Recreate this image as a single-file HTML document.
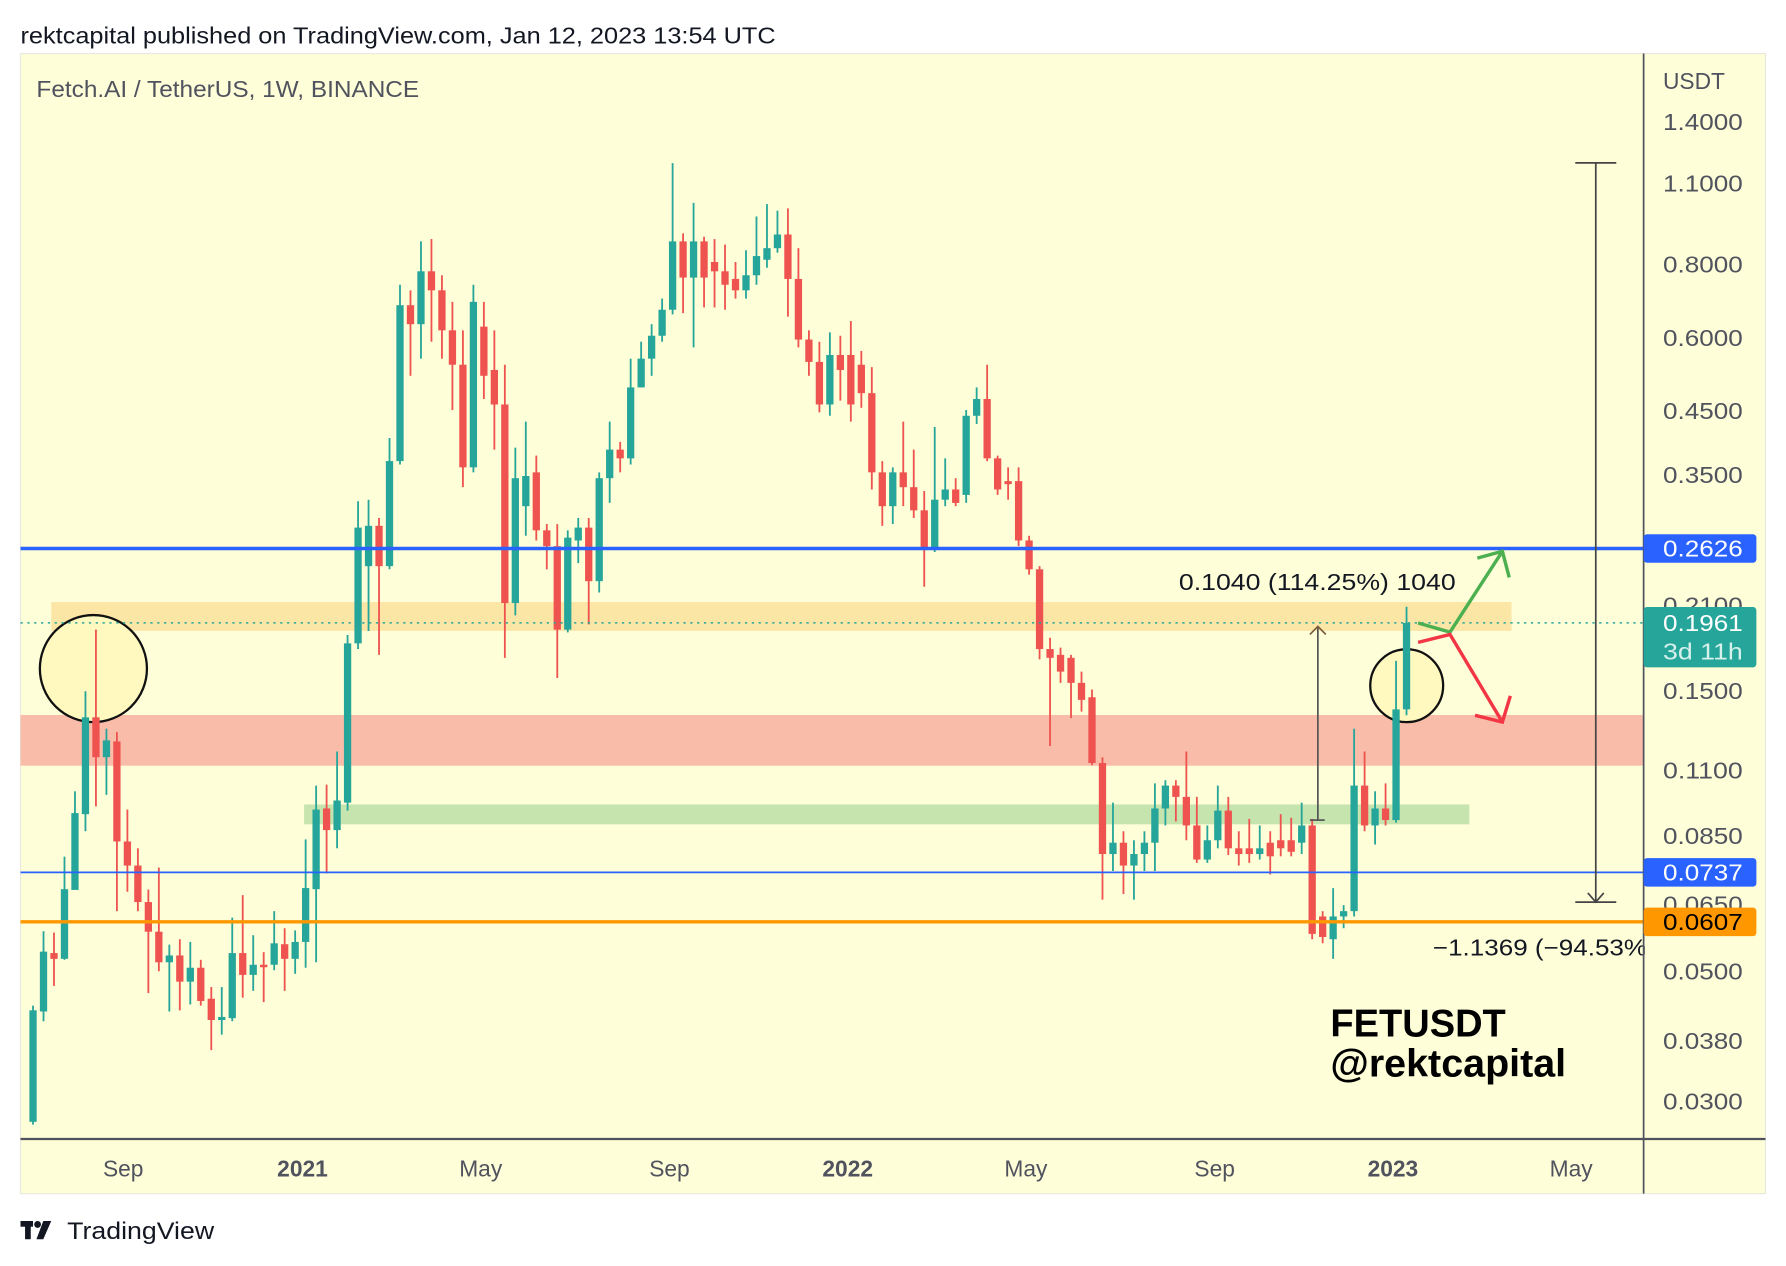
<!DOCTYPE html>
<html><head><meta charset="utf-8"><style>
html,body{margin:0;padding:0;background:#fff;}
svg{display:block;font-family:"Liberation Sans",sans-serif;}
</style></head><body>
<svg id="chart" width="1786" height="1266" viewBox="0 0 1568 1111.5" preserveAspectRatio="none" xmlns="http://www.w3.org/2000/svg">
<text x="18" y="38" font-size="20" fill="#131722" textLength="663" lengthAdjust="spacingAndGlyphs">rektcapital published on TradingView.com, Jan 12, 2023 13:54 UTC</text>
<rect x="18" y="47" width="1532" height="1001" fill="#fefed8" stroke="#e8e8e0"/>
<g id="zones"></g>
<g id="candles"></g>
<g id="overlay"></g>
<line x1="1443" y1="47" x2="1443" y2="1048" stroke="#50535e" stroke-width="1.5"/>
<line x1="18" y1="1000" x2="1550" y2="1000" stroke="#50535e" stroke-width="2"/>
<text x="32" y="85" font-size="20" fill="#50535e" textLength="336" lengthAdjust="spacingAndGlyphs">Fetch.AI / TetherUS, 1W, BINANCE</text>
<text x="1460" y="78" font-size="20" fill="#50535e">USDT</text>
<g id="yaxis"></g>
<g id="xaxis"></g>
<text x="1168" y="910" font-size="34" font-weight="bold" fill="#000" textLength="154" lengthAdjust="spacingAndGlyphs">FETUSDT</text>
<text x="1168" y="945" font-size="34" font-weight="bold" fill="#000" textLength="207" lengthAdjust="spacingAndGlyphs">@rektcapital</text>
<g>
<rect x="18" y="1072" width="11" height="5" fill="#131722"/><rect x="22" y="1072" width="5" height="16" fill="#131722"/><circle cx="33" cy="1075" r="3" fill="#131722"/><polygon points="38,1072 45,1072 38,1088 32,1088" fill="#131722"/>
<text x="59" y="1088" font-size="21" fill="#131722" textLength="129" lengthAdjust="spacingAndGlyphs">TradingView</text></g>
</svg>
<script>
const weeks=[];for(let i=0;i<132;i++)weeks.push(i);
const opens=[.0277,.0427,.0537,.0525,.0688,.0926,.1354,.1158,.1232,.0832,.0757,.0656,.0584,.0518,.0532,.0480,.0507,.0449,.0413,.0416,.0537,.0493,.0513,.0513,.0556,.0525,.0561,.0690,.0947,.0870,.0969,.181,.245,.287,.245,.370,.682,.633,.779,.723,.618,.540,.361,.627,.529,.462,.212,.310,.354,.282,.265,.191,.271,.285,.231,.346,.387,.374,.494,.553,.605,.670,.876,.760,.876,.808,.779,.756,.723,.767,.815,.853,.900,.756,.596,.546,.462,.561,.561,.540,.483,.354,.310,.354,.334,.305,.261,.318,.331,.324,.442,.472,.374,.342,.342,.271,.242,.177,.173,.171,.155,.1465,.1132,.0792,.0828,.0757,.0792,.0828,.0947,.1036,.0991,.0886,.0775,.0836,.0939,.0810,.0810,.0792,.0828,.0836,.0836,.0828,.0886,.0620,.0567,.0620,.0633,.1036,.0886,.0947,.0905,.1397];
const highs=[.0437,.0585,.0582,.0784,.1013,.150,.191,.1295,.1278,.0943,.081,.0689,.0751,.0555,.0567,.0561,.0523,.0470,.0470,.0617,.0674,.0576,.0539,.0633,.0592,.0587,.0839,.1036,.1040,.1184,.187,.316,.318,.296,.405,.739,.723,.876,.884,.767,.691,.618,.739,.691,.618,.540,.390,.432,.378,.289,.289,.282,.296,.296,.354,.432,.399,.553,.591,.633,.700,1.191,.904,1.019,.892,.884,.865,.808,.846,.966,1.014,.988,.997,.853,.618,.591,.613,.605,.641,.570,.535,.370,.361,.432,.387,.329,.423,.374,.346,.452,.494,.540,.378,.361,.361,.276,.245,.185,.178,.173,.162,.1510,.1158,.0969,.0866,.0836,.0866,.1045,.1058,.1058,.1184,.0991,.0886,.1036,.0991,.0866,.0909,.0886,.0866,.0926,.0913,.0969,.0909,.0633,.0693,.0648,.1295,.1184,.1013,.1045,.169,.209];
const lows=[.0274,.0411,.0472,.0523,.0918,.0866,.0955,.0999,.0633,.0683,.0633,.0459,.0500,.0427,.0429,.0439,.0437,.0367,.0390,.0411,.0451,.0463,.0443,.0502,.0463,.0495,.0507,.0518,.0734,.0810,.0939,.177,.190,.173,.242,.365,.517,.553,.591,.553,.452,.334,.354,.472,.387,.171,.202,.276,.271,.242,.158,.189,.248,.195,.221,.314,.354,.365,.494,.517,.591,.658,.661,.578,.676,.676,.670,.700,.700,.739,.790,.838,.652,.578,.517,.448,.442,.469,.432,.456,.331,.287,.289,.310,.296,.226,.259,.310,.310,.314,.428,.370,.324,.318,.265,.237,.170,.121,.155,.135,.1385,.1122,.0662,.0741,.0677,.0662,.0741,.0741,.0886,.0900,.0836,.0765,.0765,.0810,.0789,.0757,.0765,.0775,.0731,.0785,.0785,.0792,.0567,.0558,.0525,.0592,.0620,.0866,.0822,.0886,.0896,.1365];
const closes=[.0429,.0540,.0525,.0690,.0930,.1354,.1158,.1237,.0832,.0757,.0656,.0584,.0518,.0532,.0480,.0507,.0445,.0413,.0418,.0537,.0493,.0513,.0508,.0558,.0525,.0561,.0693,.0943,.0870,.0977,.181,.285,.287,.245,.370,.682,.633,.779,.723,.618,.540,.361,.691,.517,.462,.212,.346,.349,.282,.265,.191,.274,.285,.231,.346,.387,.374,.494,.553,.605,.670,.876,.760,.876,.760,.779,.739,.723,.767,.827,.853,.900,.756,.596,.546,.462,.561,.529,.462,.483,.354,.310,.354,.334,.305,.261,.318,.331,.314,.442,.472,.374,.331,.338,.271,.242,.177,.171,.162,.155,.145,.1132,.0792,.0828,.0757,.0792,.0828,.0947,.1036,.0991,.0886,.0775,.0836,.0939,.0810,.0792,.0792,.0810,.0785,.0810,.0799,.0886,.0579,.0572,.0620,.0633,.1036,.0886,.0947,.0905,.1397,.1961];
const priceTicks=[1.4,1.1,0.8,0.6,0.45,0.35,0.21,0.15,0.11,0.085,0.065,0.05,0.038,0.03];
const timeLabels=["Sep","2021","May","Sep","2022","May","Sep","2023","May"];
const timeWeeks=[8.6,25.7,42.7,60.7,77.7,94.7,112.7,129.7,146.7];
const levels=[0.2626,0.0737,0.0607,0.1961];

const NS="http://www.w3.org/2000/svg";
function y(p){return 107+223.8*Math.log(1.4/p);}
function x(w){return 29+9.205*w;}
function el(tag,attrs,parent){const e=document.createElementNS(NS,tag);for(const k in attrs)e.setAttribute(k,attrs[k]);parent.appendChild(e);return e;}
const Z=document.getElementById('zones'),Cg=document.getElementById('candles'),O=document.getElementById('overlay'),YA=document.getElementById('yaxis'),XA=document.getElementById('xaxis');

let z=el('rect',{x:45,y:y(0.21)-3,width:1282,height:y(0.1961)-y(0.21)+10,fill:'#fce6a6'},Z);


z=el('rect',{x:18,y:y(0.1385)+3,width:1425,height:y(0.1120)-y(0.1385)-3,fill:'#f9bca8'},Z);


z=el('rect',{x:267,y:y(0.0962),width:1023,height:y(0.0890)-y(0.0962),fill:'#c5e4ae'},Z);



let c=el('circle',{cx:82,cy:587,r:47,fill:'#fff9c0',stroke:'#111','stroke-width':2},Z);


c=el('circle',{cx:1235,cy:602,r:32,fill:'#fff9c0',stroke:'#111','stroke-width':2},Z);



weeks.forEach((w,i)=>{
  const up=closes[i]>=opens[i];const col=up?'#26a69a':'#ef5350';
  const g=el('g',{},Cg);
  
  
  el('line',{x1:x(w),x2:x(w),y1:y(highs[i]),y2:y(lows[i]),stroke:col,'stroke-width':1.6},g);
  const t=y(Math.max(opens[i],closes[i])),b=y(Math.min(opens[i],closes[i]));
  el('rect',{x:x(w)-3.2,y:t,width:6.4,height:Math.max(1.5,b-t),fill:col},g);
});

let l=el('line',{x1:18,x2:1443,y1:y(levels[0]),y2:y(levels[0]),stroke:'#2962ff','stroke-width':3},O);


l=el('line',{x1:18,x2:1443,y1:y(levels[1]),y2:y(levels[1]),stroke:'#2962ff','stroke-width':1.5},O);


l=el('line',{x1:18,x2:1443,y1:y(levels[2]),y2:y(levels[2]),stroke:'#ff9800','stroke-width':3},O);


l=el('line',{x1:18,x2:1443,y1:y(levels[3]),y2:y(levels[3]),stroke:'#26a69a','stroke-width':1.3,'stroke-dasharray':'2 4'},O);



const m=el('g',{stroke:'#555','stroke-width':1.5,fill:'none'},O);


el('line',{x1:1157,x2:1157,y1:720,y2:550},m);
el('polyline',{points:'1150,557 1157,550 1164,557',stroke:'#7a5a3a'},m);
el('line',{x1:1150,x2:1163,y1:720,y2:720},m);
let t=el('text',{x:1035,y:518,'font-size':20,fill:'#131722',textLength:243,lengthAdjust:'spacingAndGlyphs'},O);t.textContent='0.1040 (114.25%) 1040';



const m2=el('g',{stroke:'#444','stroke-width':1.5,fill:'none'},O);


el('line',{x1:1401,x2:1401,y1:143,y2:792},m2);
el('line',{x1:1383,x2:1419,y1:143,y2:143},m2);
el('line',{x1:1383,x2:1419,y1:792,y2:792},m2);
el('polyline',{points:'1394,784 1401,792 1408,784'},m2);
t=el('text',{x:1258,y:839,'font-size':20,fill:'#131722',textLength:188,lengthAdjust:'spacingAndGlyphs'},O);t.textContent='\u22121.1369 (\u221294.53%';



const ga=el('polyline',{points:'1245,547 1273,555 1319,484',stroke:'#4caf50','stroke-width':3,fill:'none'},O);


el('polyline',{points:'1297,490 1319,484 1325,507',stroke:'#4caf50','stroke-width':3,fill:'none'},O);
const ra=el('polyline',{points:'1245,564 1273,557 1319,634',stroke:'#f23645','stroke-width':3,fill:'none'},O);


el('polyline',{points:'1295,628 1319,634 1326,611',stroke:'#f23645','stroke-width':3,fill:'none'},O);

el('rect',{x:1444,y:48,width:105,height:951,fill:'#fefed8'},O);

priceTicks.forEach(p=>{
  const tt=el('text',{x:1460,y:y(p)+7,'font-size':20,fill:'#50535e',textLength:70,lengthAdjust:'spacingAndGlyphs'},YA);
  tt.textContent=p.toFixed(4);
  
  
});
const tags=[[levels[0],'#2962ff','#fff'],[levels[1],'#2962ff','#fff'],[levels[2],'#ff9800','#000']];
tags.forEach(([p,bg,fg])=>{
  const g=el('g',{},YA);
  
  
  el('rect',{x:1443,y:y(p)-12.5,width:99,height:25,rx:3,fill:bg},g);
  const tt=el('text',{x:1460,y:y(p)+7,'font-size':20,fill:fg,textLength:70,lengthAdjust:'spacingAndGlyphs'},g);tt.textContent=p.toFixed(4);
});
const lg=el('g',{},YA);


el('rect',{x:1443,y:y(levels[3])-14,width:99,height:53,rx:3,fill:'#26a69a'},lg);
let tt=el('text',{x:1460,y:y(levels[3])+7,'font-size':20,fill:'#fff',textLength:70,lengthAdjust:'spacingAndGlyphs'},lg);tt.textContent=levels[3].toFixed(4);
tt=el('text',{x:1460,y:y(levels[3])+32,'font-size':20,fill:'#d6f0ec',textLength:70,lengthAdjust:'spacingAndGlyphs'},lg);tt.textContent='3d 11h';

timeLabels.forEach((s,i)=>{
  const bold=/^20/.test(s);
  const tx=el('text',{x:x(timeWeeks[i]),y:1033,'font-size':20,'text-anchor':'middle',fill:'#50535e','font-weight':bold?'bold':'normal'},XA);
  tx.textContent=s;
  
  
});
</script>
</body></html>
